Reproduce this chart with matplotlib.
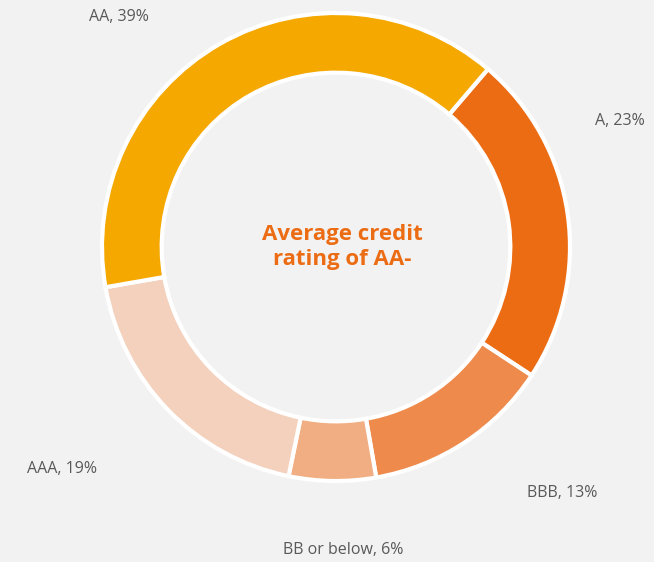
import matplotlib.pyplot as plt

ratings = ['A', 'BBB', 'BB or below', 'AAA', 'AA']
shares = [23, 13, 6, 19, 39]
colors = ['#EC6C14', '#EE8B4C', '#F0AE82', '#F3D1BD', '#F5A800']
center_text = 'Average credit\nrating of AA-'

# label anchor points in pixel space (image coords, y down)
label_pos = [(620, 121), (562, 493), (343, 550), (62, 469), (119, 17)]

W, H = 654, 562
fig = plt.figure(figsize=(W / 100, H / 100), dpi=100)
fig.patch.set_facecolor('#F2F2F2')
ax = fig.add_axes([0, 0, 1, 1])
ax.set_facecolor('#F2F2F2')
ax.axis('off')

cx, cy, r = 336, 247, 234
wedges, _ = ax.pie(shares, colors=colors, startangle=-49.5, counterclock=True,
                   center=(cx, cy), radius=r,
                   wedgeprops=dict(width=r * 0.255, edgecolor='white', linewidth=3))
ax.set_xlim(0, W)
ax.set_ylim(H, 0)
ax.set_aspect('equal')

for name, val, (x, y) in zip(ratings, shares, label_pos):
    ax.text(x, y, f'{name}, {val}%', ha='center', va='center',
            fontsize=11.5, color='#595959', family='Open Sans')

ax.text(cx + 6, cy, center_text, ha='center', va='center', fontsize=16,
        fontweight='bold', color='#EC6C14', family='Open Sans', linespacing=1.25)

fig.savefig('out.png', dpi=100, facecolor=fig.get_facecolor())
